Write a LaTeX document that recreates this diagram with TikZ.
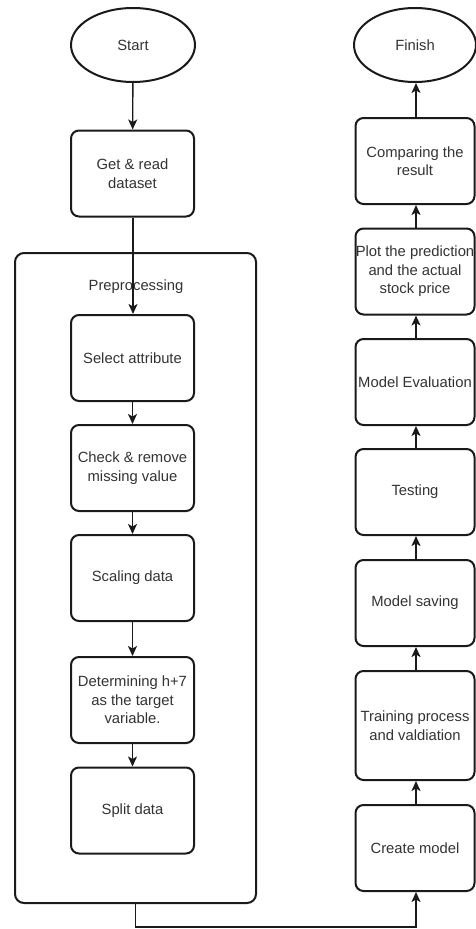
\documentclass[tikz,border=0pt]{standalone}
\usepackage{fontspec}
\setmainfont{Liberation Sans}
\usetikzlibrary{shapes.geometric,arrows.meta}
\definecolor{ink}{HTML}{1A1A1A}
\definecolor{txt}{HTML}{333333}
\tikzset{
  stepbox/.style={draw=ink, line width=2pt, rounded corners=8pt, fill=white,
    minimum width=#1, minimum height=86pt, inner sep=0pt, align=center,
    text=txt, font=\fontsize{14.8}{18.5}\selectfont},
  stepbox/.default=123pt,
  terminal/.style={draw=ink, line width=2pt, ellipse, fill=white,
    minimum width=124pt, minimum height=74pt, inner sep=0pt,
    text=txt, font=\fontsize{14.8}{18.5}\selectfont},
  group/.style={draw=ink, line width=2pt, rounded corners=9pt,
    minimum width=241pt, minimum height=650pt, inner sep=0pt},
  flow/.style={draw=ink, line width=1.4pt,
    -{Stealth[length=10pt,width=9pt,inset=2.5pt]}}
}
\begin{document}
\begin{tikzpicture}[x=1pt,y=-1pt]
\useasboundingbox (0,0) rectangle (475,929);

% preprocessing container
\node[group] (prep) at (135.5,578) {};
\node[text=txt, font=\fontsize{14.8}{18.5}\selectfont] (preplabel) at (136,287) {Preprocessing};

% left column
\node[terminal] (start) at (133,45) {Start};
\node[stepbox] (get) at (132.5,173.5) {Get \& read\\dataset};
\node[stepbox] (sel) at (132.5,358) {Select attribute};
\node[stepbox] (chk) at (132.5,468) {Check \& remove\\missing value};
\node[stepbox] (scl) at (132.5,578) {Scaling data};
\node[stepbox] (det) at (132.5,700) {Determining h+7\\as the target\\variable.};
\node[stepbox] (spl) at (132.5,810.5) {Split data};

% right column
\node[terminal, minimum width=122pt] (fin) at (415,45) {Finish};
\node[stepbox=119pt] (cmp) at (415,161) {Comparing the\\result};
\node[stepbox=119pt] (plt) at (415,271.5) {Plot the prediction\\and the actual\\stock price};
\node[stepbox=119pt] (eva) at (415,382) {Model Evaluation};
\node[stepbox=119pt] (tst) at (415,492) {Testing};
\node[stepbox=119pt] (sav) at (415,603) {Model saving};
\node[stepbox=119pt, minimum height=109pt] (trn) at (415,725.5) {Training process\\and valdiation};
\node[stepbox=119pt] (crt) at (415,848) {Create model};

% connectors, left column
\draw[flow] (start) -- (get);
\draw[flow] (get.south -| start.south) -- (sel.north -| start.south);
\draw[flow] (sel) -- (chk);
\draw[flow] (chk) -- (scl);
\draw[flow] (scl) -- (det);
\draw[flow] (det) -- (spl);

% link between the columns
\coordinate (bend) at (416,927);
\draw[flow] (prep.south) |- (bend) -- (crt.south -| bend);

% connectors, right column
\draw[flow] (crt.north -| bend) -- (trn.south -| bend);
\draw[flow] (trn.north -| bend) -- (sav.south -| bend);
\draw[flow] (sav.north -| bend) -- (tst.south -| bend);
\draw[flow] (tst.north -| bend) -- (eva.south -| bend);
\draw[flow] (eva.north -| bend) -- (plt.south -| bend);
\draw[flow] (plt.north -| bend) -- (cmp.south -| bend);
\draw[flow] (cmp.north -| bend) -- (fin.south -| bend);
\end{tikzpicture}
\end{document}
